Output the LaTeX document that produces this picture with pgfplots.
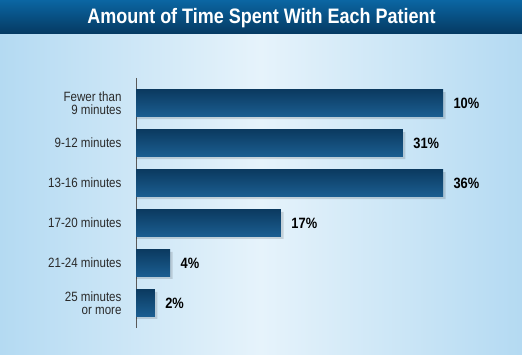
\documentclass[border=0pt]{standalone}
\usepackage{fontspec}
\setmainfont{Liberation Sans}
\newfontfamily\cond[FakeStretch=0.86]{Liberation Sans}
\usepackage{pgfplots}
\pgfplotsset{compat=1.18}
\definecolor{bgedge}{HTML}{B4DAF2}
\definecolor{bgmid}{HTML}{E6F3FB}
\definecolor{titletop}{HTML}{0B66A3}
\definecolor{titlebot}{HTML}{053961}
\definecolor{bartop}{HTML}{0B3A60}
\definecolor{barbot}{HTML}{1B5E91}
\definecolor{lblgray}{HTML}{2A2A2A}
\pgfplotsset{
  mybar/.style={draw=none, top color=bartop, bottom color=barbot,
    nodes near coords={\pgfplotspointmeta\%},
    every node near coord/.style={anchor=west, font=\cond\bfseries\fontsize{15}{15}\selectfont, text=black, xshift=7bp}},
  myshadow/.style={draw=none, fill=black, fill opacity=0.13, bar shift=-2.5bp, forget plot, nodes near coords={}}}
\begin{document}
\begin{tikzpicture}
\path[use as bounding box] (0,0) rectangle (522bp,355bp);
\shade[left color=bgedge, right color=bgedge, middle color=bgmid] (0,0) rectangle (522bp,321bp);
\shade[top color=titletop, bottom color=titlebot] (0,321bp) rectangle (522bp,355bp);
\node[text=white, font=\cond\bfseries\fontsize{21}{23}\selectfont] at (261.5bp,337bp) {Amount of Time Spent With Each Patient};
\begin{axis}[
  at={(136bp,27bp)}, anchor=south west,
  scale only axis, width=307bp, height=250bp,
  xmin=0, xmax=36, ymin=-0.63, ymax=5.63, y dir=reverse,
  xbar, bar width=27bp, bar shift=0pt,
  hide x axis,
  axis y line*=left,
  axis line style={-, draw=black!65, line width=0.8bp},
  ytick={0,1,2,3,4,5},
  yticklabels={{Fewer than\\9 minutes},{9-12 minutes},{13-16 minutes},{17-20 minutes},{21-24 minutes},{25 minutes\\or more}},
  major tick length=0pt,
  yticklabel style={align=right, text=lblgray, font=\cond\fontsize{13.5}{13}\selectfont, xshift=-11bp},
  point meta=explicit symbolic,
  clip=false,
]
\addplot[myshadow] coordinates {(36.3,0) [10] (31.6,1) [31] (36.3,2) [36] (17.3,3) [17] (4.3,4) [4] (2.5,5) [2]};
\addplot[mybar] coordinates {(36,0) [10]};
\addplot[mybar] coordinates {(31.3,1) [31]};
\addplot[mybar] coordinates {(36,2) [36]};
\addplot[mybar] coordinates {(17,3) [17]};
\addplot[mybar] coordinates {(4,4) [4]};
\addplot[mybar] coordinates {(2.2,5) [2]};
\end{axis}
\end{tikzpicture}
\end{document}
